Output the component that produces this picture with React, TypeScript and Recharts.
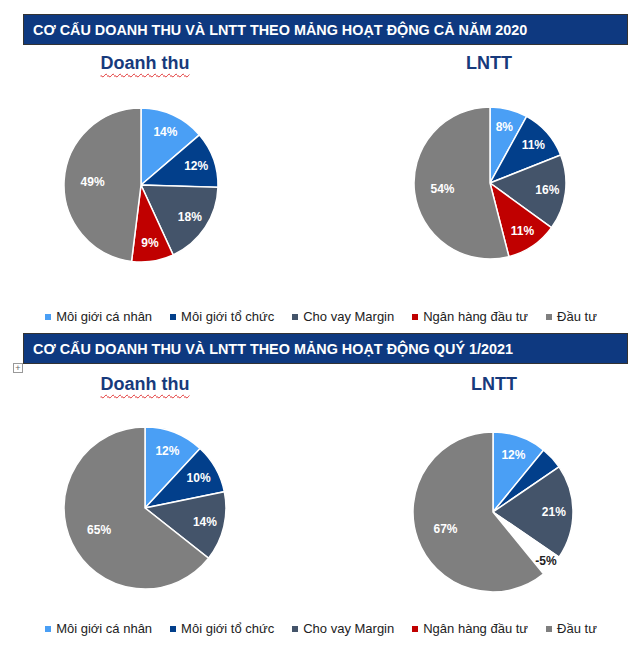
import React from 'react';
import { PieChart, Pie, Cell } from 'recharts';

const SEGMENTS = ['Môi giới cá nhân', 'Môi giới tổ chức', 'Cho vay Margin', 'Ngân hàng đầu tư', 'Đầu tư'];
const COLORS = ['#4A9FF5', '#023F8B', '#44546A', '#C00000', '#7F7F7F'];

// % share per segment, same order as SEGMENTS
const REVENUE_2020 = [14, 12, 18, 9, 49];
const PBT_2020 = [8, 11, 16, 11, 54];
const REVENUE_Q1_2021 = [12, 10, 14, 0, 65];
const PBT_Q1_2021 = [12, 5, 21, -5, 67];
const PBT_Q1_2021_HIDDEN = ['Môi giới tổ chức']; // no label drawn on that slice

const HEADER_2020 = 'CƠ CẤU DOANH THU VÀ LNTT THEO MẢNG HOẠT ĐỘNG CẢ NĂM 2020';
const HEADER_Q1 = 'CƠ CẤU DOANH THU VÀ LNTT THEO MẢNG HOẠT ĐỘNG QUÝ 1/2021';

const FONT = '"Liberation Sans", Arial, sans-serif';
const NAVY = '#0E3980';
const TITLE = '#173A7C';
const RAD = Math.PI / 180;

type PieProps = { values: number[]; cx: number; cy: number; r: number; hidden?: string[] };

const SegmentPie = ({ values, cx, cy, r, hidden = [] }: PieProps) => {
  const data = SEGMENTS.map((name, i) => ({
    name,
    value: Math.abs(values[i]),
    raw: values[i],
    color: values[i] < 0 ? '#ffffff' : COLORS[i],
  })).filter(d => d.value > 0);
  const size = 2 * r + 24;

  const renderLabel = (p: any) => {
    const entry = p.payload ?? p;
    if (hidden.includes(entry.name)) return null;
    const neg = entry.raw < 0;
    const k = neg ? 0.9 : p.percent > 0.45 ? 0.63 : 0.76;
    const x = p.cx + p.outerRadius * k * Math.cos(-p.midAngle * RAD);
    const y = p.cy + p.outerRadius * k * Math.sin(-p.midAngle * RAD);
    return (
      <text x={x} y={y} textAnchor="middle" dominantBaseline="central"
        fill={neg ? '#222' : '#fff'} fontSize={12} fontWeight="bold" fontFamily={FONT}>
        {entry.raw}%
      </text>
    );
  };

  return (
    <div style={{ position: 'absolute', left: cx - size / 2, top: cy - size / 2 }}>
      <PieChart width={size} height={size} margin={{ top: 0, right: 0, bottom: 0, left: 0 }}>
        <Pie data={data} dataKey="value" nameKey="name" cx="50%" cy="50%" outerRadius={r}
          startAngle={90} endAngle={-270} stroke="#fff" strokeWidth={1.5}
          label={renderLabel} labelLine={false} isAnimationActive={false}>
          {data.map(d => <Cell key={d.name} fill={d.color} />)}
        </Pie>
      </PieChart>
    </div>
  );
};

const Header = ({ text, top }: { text: string; top: number }) => (
  <div style={{
    position: 'absolute', left: 23, top, width: 594, height: 29,
    background: NAVY, border: '1px solid #333', display: 'flex', alignItems: 'center',
    paddingLeft: 9, color: '#fff', fontFamily: FONT, fontWeight: 'bold', fontSize: 14.4,
    whiteSpace: 'nowrap',
  }}>{text}</div>
);

const Title = ({ text, cx, top, wavy }: { text: string; cx: number; top: number; wavy?: boolean }) => (
  <div style={{
    position: 'absolute', left: cx - 80, top, width: 160, textAlign: 'center',
    fontFamily: FONT, fontWeight: 'bold', fontSize: 18, lineHeight: '18px', color: TITLE,
  }}>
    <span style={wavy ? { textDecoration: 'underline wavy #e03030', textDecorationThickness: '1px', textUnderlineOffset: '4px' } : undefined}>{text}</span>
  </div>
);

const SegmentLegend = ({ top }: { top: number }) => (
  <div style={{
    position: 'absolute', left: 23, top, width: 596, height: 16, display: 'flex',
    justifyContent: 'center', alignItems: 'center', gap: 18,
    fontFamily: FONT, fontSize: 13, lineHeight: '16px', color: '#222', whiteSpace: 'nowrap',
  }}>
    {SEGMENTS.map((s, i) => (
      <div key={s} style={{ display: 'flex', alignItems: 'center' }}>
        <span style={{ width: 6, height: 6, background: COLORS[i], marginRight: 5, display: 'inline-block' }} />
        {s}
      </div>
    ))}
  </div>
);

export default function App() {
  return (
    <div style={{ position: 'absolute', left: 0, top: 0, width: 630, height: 649, background: '#fff', overflow: 'hidden' }}>
      <Header text={HEADER_2020} top={14} />
      <Title text="Doanh thu" cx={145} top={54} wavy />
      <Title text="LNTT" cx={489} top={54} />
      <SegmentPie values={REVENUE_2020} cx={141} cy={185} r={77} />
      <SegmentPie values={PBT_2020} cx={490} cy={183} r={76} />
      <SegmentLegend top={309} />

      <Header text={HEADER_Q1} top={333} />
      <div style={{
        position: 'absolute', left: 13, top: 363, width: 8, height: 8, border: '1px solid #999',
        fontSize: 9, lineHeight: '8px', textAlign: 'center', color: '#666', fontFamily: FONT,
      }}>+</div>
      <Title text="Doanh thu" cx={145} top={375} wavy />
      <Title text="LNTT" cx={494} top={375} />
      <SegmentPie values={REVENUE_Q1_2021} cx={145} cy={508} r={81} />
      <SegmentPie values={PBT_Q1_2021} cx={493} cy={512} r={80} hidden={PBT_Q1_2021_HIDDEN} />
      <SegmentLegend top={621} />
    </div>
  );
}
